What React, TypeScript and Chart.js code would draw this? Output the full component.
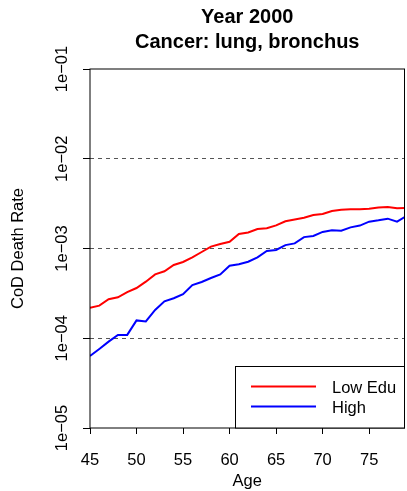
import React, { useEffect, useRef } from "react";
import { Chart, registerables } from "chart.js";

Chart.register(...registerables);

const ages = [45, 46, 47, 48, 49, 50, 51, 52, 53, 54, 55, 56, 57, 58, 59, 60, 61, 62, 63, 64, 65, 66, 67, 68, 69, 70, 71, 72, 73, 74, 75, 76, 77, 78, 79];
const lowEdu = [2.19e-4, 2.31e-4, 2.72e-4, 2.86e-4, 3.27e-4, 3.63e-4, 4.27e-4, 5.15e-4, 5.57e-4, 6.55e-4, 7.08e-4, 7.98e-4, 9.14e-4, 1.05e-3, 1.12e-3, 1.19e-3, 1.45e-3, 1.51e-3, 1.65e-3, 1.68e-3, 1.81e-3, 2.01e-3, 2.11e-3, 2.2e-3, 2.36e-3, 2.42e-3, 2.62e-3, 2.71e-3, 2.73e-3, 2.73e-3, 2.77e-3, 2.87e-3, 2.9e-3, 2.81e-3, 2.83e-3];
const high = [6.34e-5, 7.59e-5, 9.16e-5, 1.09e-4, 1.09e-4, 1.58e-4, 1.54e-4, 2.07e-4, 2.58e-4, 2.79e-4, 3.09e-4, 3.92e-4, 4.24e-4, 4.69e-4, 5.15e-4, 6.43e-4, 6.67e-4, 7.13e-4, 7.98e-4, 9.37e-4, 9.62e-4, 1.09e-3, 1.14e-3, 1.34e-3, 1.38e-3, 1.53e-3, 1.6e-3, 1.58e-3, 1.72e-3, 1.8e-3, 1.99e-3, 2.06e-3, 2.15e-3, 1.99e-3, 2.3e-3];
const xTicks = [45, 50, 55, 60, 65, 70, 75];
const yTicks = [1e-5, 1e-4, 1e-3, 1e-2, 1e-1];
const yTickLabels = ["1e\u221205", "1e\u221204", "1e\u221203", "1e\u221202", "1e\u221201"];
const dashedAt = [1e-4, 1e-3, 1e-2];
const seriesNames = ["Low Edu", "High"];
const seriesColors = ["#ff0000", "#0000ff"];
const titleLines = ["Year 2000", "Cancer: lung, bronchus"];
const xTitle = "Age";
const yTitle = "CoD Death Rate";

const FONT = "'Liberation Sans', Arial, Helvetica, sans-serif";

const decorPlugin = {
  id: "decor",
  afterDraw(chart: any) {
    const ctx = chart.ctx as CanvasRenderingContext2D;
    const a = chart.chartArea;
    const ys = chart.scales.y;
    ctx.save();
    // box
    ctx.strokeStyle = "#000";
    ctx.lineWidth = 1;
    ctx.setLineDash([]);
    ctx.strokeRect(a.left, a.top, a.right - a.left, a.bottom - a.top);
    const cx = (a.left + a.right) / 2;
    // title
    ctx.fillStyle = "#000";
    ctx.textAlign = "center";
    ctx.textBaseline = "alphabetic";
    ctx.font = `bold 20px ${FONT}`;
    ctx.fillText(titleLines[0], cx, 22.5);
    ctx.fillText(titleLines[1], cx, 47.5);
    // y tick labels
    ctx.font = `16.5px ${FONT}`;
    yTicks.forEach((v, i) => {
      const py = ys.getPixelForValue(v);
      ctx.save();
      ctx.translate(66.5, py);
      ctx.rotate(-Math.PI / 2);
      ctx.textAlign = "center";
      ctx.fillText(yTickLabels[i], 0, 0);
      ctx.restore();
    });
    // y title
    ctx.save();
    ctx.translate(22.5, (a.top + a.bottom) / 2);
    ctx.rotate(-Math.PI / 2);
    ctx.textAlign = "center";
    ctx.fillText(yTitle, 0, 0);
    ctx.restore();
    // x title
    ctx.textAlign = "center";
    ctx.fillText(xTitle, cx, 486);
    // legend
    const lx = 235.5;
    const ly = 366.5;
    ctx.fillStyle = "#fff";
    ctx.fillRect(lx, ly, a.right - lx, a.bottom - ly);
    ctx.strokeStyle = "#000";
    ctx.lineWidth = 1;
    ctx.strokeRect(lx, ly, a.right - lx, a.bottom - ly);
    const lineYs = [386.5, 406.5];
    const textYs = [392.5, 413];
    seriesNames.forEach((name, i) => {
      ctx.strokeStyle = seriesColors[i];
      ctx.lineWidth = 2;
      ctx.beginPath();
      ctx.moveTo(251, lineYs[i]);
      ctx.lineTo(316, lineYs[i]);
      ctx.stroke();
      ctx.fillStyle = "#000";
      ctx.textAlign = "left";
      ctx.fillText(name, 332, textYs[i]);
    });
    ctx.restore();
  },
};

export default function App() {
  const ref = useRef<HTMLCanvasElement | null>(null);
  useEffect(() => {
    document.body.style.margin = "0";
    const canvas = ref.current!;
    const chart = new Chart(canvas, {
      type: "line",
      data: {
        datasets: [
          {
            label: seriesNames[0],
            data: ages.map((x, i) => ({ x, y: lowEdu[i] })),
            borderColor: seriesColors[0],
            borderWidth: 2,
            pointRadius: 0,
            tension: 0,
            fill: false,
          },
          {
            label: seriesNames[1],
            data: ages.map((x, i) => ({ x, y: high[i] })),
            borderColor: seriesColors[1],
            borderWidth: 2,
            pointRadius: 0,
            tension: 0,
            fill: false,
          },
        ],
      },
      options: {
        responsive: false,
        animation: false,
        layout: { padding: { top: 69, right: 2.5, left: 0, bottom: 0 } },
        plugins: {
          legend: { display: false },
          title: { display: false },
          tooltip: { enabled: false },
        },
        scales: {
          x: {
            type: "linear",
            min: 45,
            max: 78.8,
            afterBuildTicks(scale: any) {
              scale.ticks = xTicks.map((v) => ({ value: v }));
            },
            afterFit(scale: any) {
              scale.height = 63;
            },
            border: { display: false },
            grid: {
              display: true,
              drawOnChartArea: false,
              drawTicks: true,
              tickLength: 6,
              tickColor: "#000",
              tickWidth: 1,
            },
            ticks: {
              padding: 17,
              color: "#000",
              maxRotation: 0,
              autoSkip: false,
              font: { family: FONT, size: 16.5 },
              callback: (v: any) => String(v),
            },
          },
          y: {
            type: "logarithmic",
            min: 1e-5,
            max: 1e-1,
            afterBuildTicks(scale: any) {
              scale.ticks = yTicks.map((v) => ({ value: v }));
            },
            afterFit(scale: any) {
              scale.width = 90;
            },
            border: { display: false, dash: [4, 4] },
            grid: {
              display: true,
              drawOnChartArea: true,
              drawTicks: true,
              tickLength: 7,
              tickColor: "#000",
              tickWidth: 1,
              tickBorderDash: [],
              lineWidth: 1,
              color: (c: any) => {
                const v = c.tick ? c.tick.value : null;
                return v !== null && dashedAt.some((d) => Math.abs(d - v) / d < 1e-6) ? "#555" : "rgba(0,0,0,0)";
              },
            },
            ticks: { display: false },
          },
        },
      },
      plugins: [decorPlugin],
    });
    return () => chart.destroy();
  }, []);
  return (
    <div style={{ width: 407, height: 491, background: "#fff" }}>
      <canvas ref={ref} width={407} height={491} style={{ display: "block" }} />
    </div>
  );
}
